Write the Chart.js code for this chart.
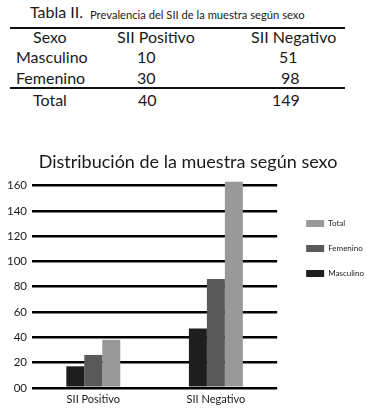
<!DOCTYPE html>
<html>
<head>
<meta charset="utf-8">
<script src="https://cdn.jsdelivr.net/npm/chart.js@4.4.1/dist/chart.umd.min.js"></script>
<style>
  html, body { margin:0; padding:0; background:#fff; }
  body { width:367px; height:413px; position:relative; overflow:hidden; font-family: Lato, "Open Sans", sans-serif; color:#1a1a1a; }
  .t { position:absolute; white-space:nowrap; line-height:1; font-size:16px; }
  .rule { position:absolute; left:10px; width:335px; height:2px; background:#111; }
  #wrap { position:absolute; left:0; top:135px; width:374px; height:278px; }
</style>
</head>
<body>
<script>
// ---- data ----
const tableTitle = 'Tabla II.';
const tableCaption = 'Prevalencia del SII de la muestra según sexo';
const tableHeader = ['Sexo', 'SII Positivo', 'SII Negativo'];
const tableRows = [
  ['Masculino', '10', '51'],
  ['Femenino', '30', '98']
];
const tableTotal = ['Total', '40', '149'];

const chartTitle = 'Distribución de la muestra según sexo';
const categories = ['SII Positivo', 'SII Negativo'];
const seriesNames = ['Masculino', 'Femenino', 'Total'];
const masculino = [17, 47];
const femenino = [26, 86];
const total = [38, 163];
const yTickLabels = ['00', '20', '40', '60', '80', '100', '120', '140', '160'];
</script>

<div class="t" style="left:30px; top:4px; font-size:16px;" id="tt"></div>
<div class="t" style="left:90px; top:9px; font-size:11.2px;" id="tc"></div>
<div class="rule" style="top:27px;"></div>
<div class="t" style="left:33px; top:29px;" id="h0"></div>
<div class="t" style="left:117px; top:29px;" id="h1"></div>
<div class="t" style="left:251px; top:29px;" id="h2"></div>
<div class="t" style="left:16px; top:49px;" id="r00"></div>
<div class="t" style="left:137px; top:49px;" id="r01"></div>
<div class="t" style="left:279px; top:49px;" id="r02"></div>
<div class="t" style="left:16px; top:70px;" id="r10"></div>
<div class="t" style="left:137px; top:70px;" id="r11"></div>
<div class="t" style="left:281px; top:70px;" id="r12"></div>
<div class="rule" style="top:87px;"></div>
<div class="t" style="left:33px; top:92px;" id="f0"></div>
<div class="t" style="left:138px; top:92px;" id="f1"></div>
<div class="t" style="left:272px; top:92px;" id="f2"></div>

<div id="wrap"><canvas id="c"></canvas></div>

<script>
document.getElementById('tt').textContent = tableTitle;
document.getElementById('tc').textContent = tableCaption;
tableHeader.forEach((s, i) => document.getElementById('h' + i).textContent = s);
tableRows.forEach((row, r) => row.forEach((s, i) => document.getElementById('r' + r + i).textContent = s));
tableTotal.forEach((s, i) => document.getElementById('f' + i).textContent = s);

const colors = ['#1e1e1e', '#595959', '#999999'];
const values = [masculino, femenino, total];

new Chart(document.getElementById('c'), {
  type: 'bar',
  data: {
    labels: categories,
    datasets: seriesNames.map((n, i) => ({
      label: n,
      data: values[i],
      backgroundColor: colors[i],
      borderWidth: 0,
      categoryPercentage: 0.44,
      barPercentage: 1.0,
      clip: false
    }))
  },
  options: {
    responsive: true,
    maintainAspectRatio: false,
    animation: false,
    layout: { padding: { left: 2, right: 0, top: 0, bottom: 2 } },
    plugins: {
      title: {
        display: true,
        text: chartTitle,
        color: '#1a1a1a',
        font: { family: 'Lato', size: 18, weight: 'normal' },
        padding: { top: 16, bottom: 13 }
      },
      legend: {
        display: true,
        position: 'right',
        align: 'start',
        reverse: true,
        maxWidth: 200,
        title: { display: true, text: ' ', padding: { top: 58, bottom: 0 }, font: { size: 8 } },
        labels: {
          boxWidth: 18,
          boxHeight: 7,
          padding: 17,
          color: '#1a1a1a',
          font: { family: 'Lato', size: 8 }
        }
      },
      tooltip: { enabled: false }
    },
    scales: {
      x: {
        grid: { display: false, drawTicks: false },
        border: { display: false },
        ticks: { color: '#1a1a1a', font: { family: 'Lato', size: 11 }, padding: 5 }
      },
      y: {
        min: 0,
        max: 160,
        grid: { color: '#000', lineWidth: 2.5, drawTicks: false },
        border: { display: false },
        ticks: {
          stepSize: 20,
          padding: 5,
          color: '#1a1a1a',
          font: { family: 'Lato', size: 11.5 },
          callback: (v, i) => yTickLabels[i]
        }
      },
      gap: {
        position: 'right',
        display: true,
        grid: { display: false, drawTicks: false },
        border: { display: false },
        ticks: { display: false },
        afterFit: (s) => { s.width = 12; }
      }
    }
  }
});
</script>
</body>
</html>
